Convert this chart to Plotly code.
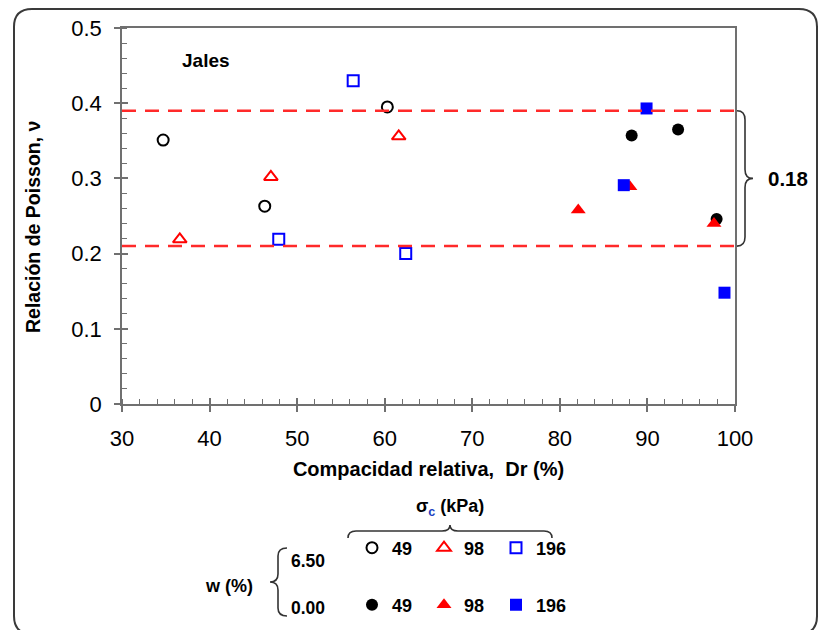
import plotly.graph_objects as go

# Poisson's ratio vs relative density, tailings ("Jales")
# Open markers: w = 6.50 %, filled markers: w = 0.00 %
open49_x = [34.7, 46.3, 60.3]
open49_y = [0.351, 0.263, 0.395]
open98_x = [36.6, 47.0, 61.6]
open98_y = [0.219, 0.302, 0.356]
open196_x = [47.9, 56.4, 62.4]
open196_y = [0.219, 0.430, 0.200]

fill49_x = [88.2, 93.5, 97.9]
fill49_y = [0.357, 0.365, 0.246]
fill98_x = [82.1, 88.0, 97.6]
fill98_y = [0.258, 0.289, 0.240]
fill196_x = [87.3, 89.9, 98.8]
fill196_y = [0.291, 0.393, 0.148]

band_upper = 0.39
band_lower = 0.21

x_ticks = [30, 40, 50, 60, 70, 80, 90, 100]
y_ticks = [0, 0.1, 0.2, 0.3, 0.4, 0.5]

FONT = "Liberation Sans, Arial, sans-serif"
W, H = 818, 630
L, R, T, B = 122, 735, 28, 404


def fx(X):
    return (X - L) / (R - L)


def fy(Y):
    return (B - Y) / (B - T)


def ppath(points_cmds):
    out = []
    for cmd, pts in points_cmds:
        coords = " ".join(f"{fx(a):.5f},{fy(b):.5f}" for a, b in pts)
        out.append(f"{cmd}{coords}")
    return " ".join(out)


fig = go.Figure()

series = [
    (open49_x, open49_y, "49", "circle-open", "black", 11, "legend"),
    (open98_x, open98_y, "98", "triangle-up-open", "red", 12, "legend"),
    (open196_x, open196_y, "196", "square-open", "blue", 11, "legend"),
    (fill49_x, fill49_y, "49", "circle", "black", 12, "legend2"),
    (fill98_x, fill98_y, "98", "triangle-up", "red", 13, "legend2"),
    (fill196_x, fill196_y, "196", "square", "blue", 12, "legend2"),
]
for xs, ys, name, sym, col, size, leg in series:
    fig.add_trace(go.Scatter(
        x=xs, y=ys, mode="markers", name=f"<b>{name}</b>", legend=leg,
        marker=dict(symbol=sym, color=col, size=size,
                    line=dict(color=col, width=2 if "open" in sym else 0)),
        cliponaxis=False,
    ))

# helper trace for the overlay axes carrying the inner halves of the major ticks
fig.add_trace(go.Scatter(x=[None], y=[None], xaxis="x2", yaxis="y2",
                         showlegend=False, hoverinfo="skip"))

# dashed band limits
for yv in (band_upper, band_lower):
    fig.add_shape(type="line", xref="x", yref="y", x0=30, x1=100, y0=yv, y1=yv,
                  line=dict(color="#ff2a2a", width=2.5, dash="14px,9px"))

# brace on the right spanning the band
mid = (band_upper + band_lower) / 2
d = 0.012
fig.add_shape(
    type="path", xref="paper", yref="y", xsizemode="pixel", xanchor=1,
    path=(f"M2,{band_upper} Q10,{band_upper} 10,{band_upper - d} "
          f"L10,{mid + d} Q10,{mid} 18,{mid} Q10,{mid} 10,{mid - d} "
          f"L10,{band_lower + d} Q10,{band_lower} 2,{band_lower}"),
    line=dict(color="#333333", width=1.6),
)
fig.add_annotation(xref="paper", yref="y", x=fx(766), y=mid, xanchor="left",
                   text=f"<b>{band_upper - band_lower:.2f}</b>", showarrow=False,
                   font=dict(family=FONT, size=20.5, color="black"))

# outer rounded frame
X0, Y0, X1, Y1, r = 14, 9, 817, 634, 18
fig.add_shape(type="path", xref="paper", yref="paper", layer="below",
              path=ppath([
                  ("M", [(X0 + r, Y0)]), ("L", [(X1 - r, Y0)]),
                  ("Q", [(X1, Y0), (X1, Y0 + r)]), ("L", [(X1, Y1 - r)]),
                  ("Q", [(X1, Y1), (X1 - r, Y1)]), ("L", [(X0 + r, Y1)]),
                  ("Q", [(X0, Y1), (X0, Y1 - r)]), ("L", [(X0, Y0 + r)]),
                  ("Q", [(X0, Y0), (X0 + r, Y0)]),
              ]),
              line=dict(color="#3a3a3a", width=2))

# legend braces
fig.add_shape(type="path", xref="paper", yref="paper",
              path=ppath([
                  ("M", [(348, 538)]), ("Q", [(348, 531), (356, 531)]),
                  ("L", [(442, 531)]), ("Q", [(450, 531), (450, 525)]),
                  ("Q", [(450, 531), (458, 531)]), ("L", [(544, 531)]),
                  ("Q", [(552, 531), (552, 538)]),
              ]),
              line=dict(color="#333333", width=1.6))
fig.add_shape(type="path", xref="paper", yref="paper",
              path=ppath([
                  ("M", [(287, 548)]), ("Q", [(278, 548), (278, 556)]),
                  ("L", [(278, 574)]), ("Q", [(278, 582), (270, 582)]),
                  ("Q", [(278, 582), (278, 590)]), ("L", [(278, 608)]),
                  ("Q", [(278, 616), (287, 616)]),
              ]),
              line=dict(color="#333333", width=1.6))

bold = dict(family=FONT, color="black")
annots = [
    ("<b>Jales</b>", 206, 60, 19, "center", 0),
    ("<b>Relación de Poisson, ν</b>", 33, 227, 19.5, "center", -90),
    ("<b>σ<sub><span style='color:#2040c0'>c</span></sub> (kPa)</b>", 450, 507, 18, "center", 0),
    ("<b>6.50</b>", 289, 561, 17.5, "left", 0),
    ("<b>0.00</b>", 289, 608, 17.5, "left", 0),
    ("<b>w (%)</b>", 229, 586, 18, "center", 0),
]
for txt, X, Y, size, xa, ang in annots:
    fig.add_annotation(xref="paper", yref="paper", x=fx(X), y=fy(Y), text=txt,
                       showarrow=False, xanchor=xa, yanchor="middle", textangle=ang,
                       font=dict(size=size, **bold))

axis_col = "#707070"
fig.update_layout(
    width=W, height=H,
    margin=dict(l=L, r=W - R, t=T, b=H - B, autoexpand=False),
    paper_bgcolor="white", plot_bgcolor="white",
    font=dict(family=FONT, color="black"),
    xaxis=dict(
        range=[30, 100], tickvals=x_ticks, ticks="outside", ticklen=6, tickwidth=1.5,
        tickcolor=axis_col, showline=True, linecolor=axis_col, linewidth=1.5, mirror=True,
        showgrid=False, zeroline=False, tickfont=dict(size=22, family=FONT),
        ticklabelstandoff=8,
        minor=dict(dtick=2, ticks="inside", ticklen=5, tickwidth=1.2, tickcolor=axis_col),
        title=dict(text="<b>Compacidad relativa,  Dr (%)</b>",
                   font=dict(size=20, family=FONT), standoff=12),
    ),
    yaxis=dict(
        range=[0, 0.5], tickvals=y_ticks, ticktext=["0", "0.1", "0.2", "0.3", "0.4", "0.5"],
        ticks="outside", ticklen=6, tickwidth=1.5,
        tickcolor=axis_col, showline=True, linecolor=axis_col, linewidth=1.5, mirror=True,
        showgrid=False, zeroline=False, tickfont=dict(size=22, family=FONT),
        ticklabelstandoff=8,
        minor=dict(dtick=0.02, ticks="inside", ticklen=5, tickwidth=1.2, tickcolor=axis_col),
    ),
    xaxis2=dict(overlaying="x", anchor="y", range=[30, 100], tickvals=x_ticks,
                ticks="inside", ticklen=6, tickwidth=1.5, tickcolor=axis_col,
                showticklabels=False, showline=False, showgrid=False, zeroline=False),
    yaxis2=dict(overlaying="y", anchor="x", range=[0, 0.5], tickvals=y_ticks,
                ticks="inside", ticklen=6, tickwidth=1.5, tickcolor=axis_col,
                showticklabels=False, showline=False, showgrid=False, zeroline=False),
    legend=dict(orientation="h", x=fx(352), y=fy(548), xanchor="left", yanchor="middle",
                entrywidth=27, entrywidthmode="pixels", bgcolor="rgba(0,0,0,0)",
                font=dict(size=18, family=FONT, color="black"), itemclick=False),
    legend2=dict(orientation="h", x=fx(352), y=fy(605), xanchor="left", yanchor="middle",
                 entrywidth=27, entrywidthmode="pixels", bgcolor="rgba(0,0,0,0)",
                 font=dict(size=18, family=FONT, color="black"), itemclick=False),
    showlegend=True,
)

fig.write_html("out.html")
